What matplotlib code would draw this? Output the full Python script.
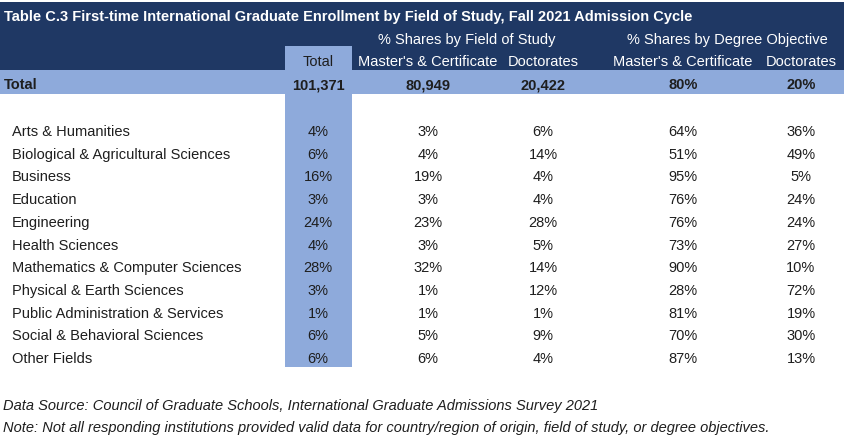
import matplotlib
matplotlib.use("Agg")
import matplotlib.pyplot as plt
from matplotlib.patches import Rectangle

plt.rcParams['font.family'] = ['Liberation Sans', 'DejaVu Sans']

# table content
title = "Table C.3 First-time International Graduate Enrollment by Field of Study, Fall 2021 Admission Cycle"
group_headers = ["% Shares by Field of Study", "% Shares by Degree Objective"]
col_headers = ["Total", "Master's & Certificate", "Doctorates", "Master's & Certificate", "Doctorates"]
total_counts = [101371, 80949, 20422]
total_degree = [80, 20]

fields = ["Arts & Humanities", "Biological & Agricultural Sciences", "Business", "Education",
          "Engineering", "Health Sciences", "Mathematics & Computer Sciences",
          "Physical & Earth Sciences", "Public Administration & Services",
          "Social & Behavioral Sciences", "Other Fields"]
total_share = [4, 6, 16, 3, 24, 4, 28, 3, 1, 6, 6]
field_masters = [3, 4, 19, 3, 23, 3, 32, 1, 1, 5, 6]
field_doct = [6, 14, 4, 4, 28, 5, 14, 12, 1, 9, 4]
deg_masters = [64, 51, 95, 76, 76, 73, 90, 28, 81, 70, 87]
deg_doct = [36, 49, 5, 24, 24, 27, 10, 72, 19, 30, 13]

source = "Data Source: Council of Graduate Schools, International Graduate Admissions Survey 2021"
note = "Note: Not all responding institutions provided valid data for country/region of origin, field of study, or degree objectives."

navy = "#1f3864"
light = "#8eaadb"
ink = "#1e1e1e"

fig = plt.figure(figsize=(8.45, 4.44), dpi=100)
ax = fig.add_axes([0, 0, 1, 1])
ax.set_xlim(0, 845)
ax.set_ylim(444, 0)
ax.axis('off')

col_x = [318, 428, 543, 683, 801]
fs = 10.5
dy_txt = 2  # va='center' sits a little high for this font

# header block
ax.add_patch(Rectangle((0, 2), 845, 68, color=navy, lw=0))
ax.add_patch(Rectangle((285, 46), 67, 25, color=light, lw=0))
# total row band
ax.add_patch(Rectangle((0, 70), 845, 24, color=light, lw=0))
# total column band
ax.add_patch(Rectangle((285, 94), 67, 273, color=light, lw=0))

ax.text(4, 15 + dy_txt, title, color="white", fontsize=fs, fontweight="bold", va="center", ha="left")
ax.text(467, 38 + dy_txt, group_headers[0], color="white", fontsize=fs, va="center", ha="center")
ax.text(727, 38 + dy_txt, group_headers[1], color="white", fontsize=fs, va="center", ha="center")
for i, h in enumerate(col_headers):
    ax.text(col_x[i], 60 + dy_txt, h, color=ink if i == 0 else "white", fontsize=fs,
            va="center", ha="center")

# total row
ax.text(4, 83 + dy_txt, "Total", color=ink, fontsize=fs, fontweight="bold", va="center")
total_texts = [f"{v:,}" for v in total_counts] + [f"{v}%" for v in total_degree]
for x, t in zip(col_x, total_texts):
    ax.text(x, 83 + dy_txt, t, color=ink, fontsize=fs, fontweight="bold", va="center", ha="center")

# data rows
y0, dy = 130, 22.7
for r, name in enumerate(fields):
    y = y0 + r * dy + dy_txt
    ax.text(12, y, name, color=ink, fontsize=fs, va="center")
    vals = [total_share[r], field_masters[r], field_doct[r], deg_masters[r], deg_doct[r]]
    for x, v in zip(col_x, vals):
        ax.text(x, y, f"{v}%", color=ink, fontsize=fs, va="center", ha="center")

ax.text(3, 404 + dy_txt, source, color=ink, fontsize=fs, style="italic", va="center")
ax.text(3, 426 + dy_txt, note, color=ink, fontsize=fs, style="italic", va="center")

fig.savefig("out.png", dpi=100)
